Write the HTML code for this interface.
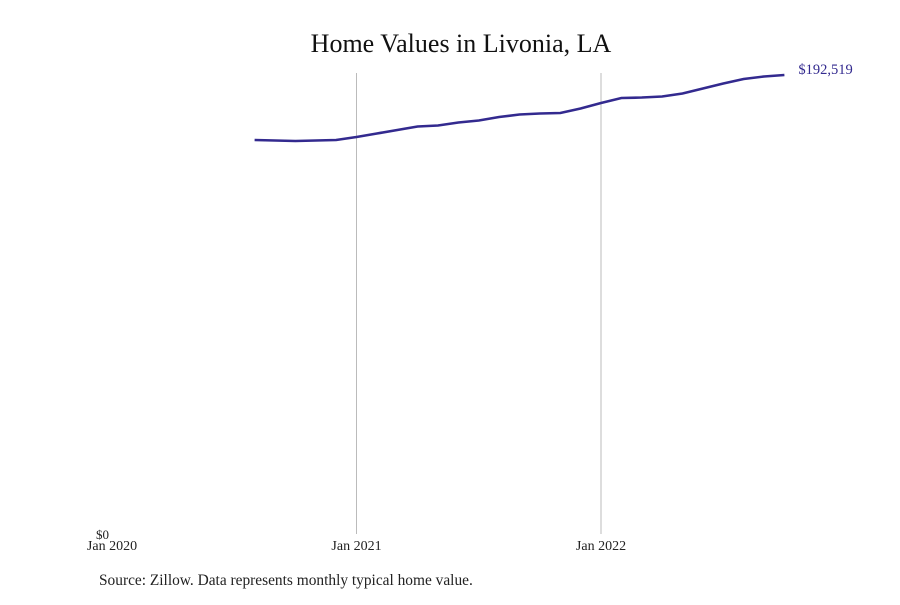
<!DOCTYPE html>
<html><head><meta charset="utf-8"><style>
body{margin:0;background:#fff;width:900px;height:600px;overflow:hidden;font-family:"Liberation Serif",serif}
</style></head><body>
<svg width="900" height="600">
<text x="461" y="52" text-anchor="middle" font-size="26" fill="#111">Home Values in Livonia, LA</text>
<g id="grid"></g>
<g id="xaxis"></g>
<text x="109" y="539" text-anchor="end" font-size="13" fill="#222">$0</text>
<path id="line" fill="none" stroke="#332a8f" stroke-width="2.6"/>
<text id="endlabel" font-size="14.5" fill="#332a8f"></text>
<text x="99" y="585" font-size="15.4" fill="#222">Source: Zillow. Data represents monthly typical home value.</text>
</svg>
<script>
const startMonthIndex = 7; // Aug 2020, months since Jan 2020
const values = [165255,165045,164836,165045,165255,166513,167981,169444,170920,171340,172598,173437,174905,175954,176373,176583,178470,180777,182874,183084,183503,184762,186859,188956,190843,191892,192519];
const tickLabels = ["Jan 2020","Jan 2021","Jan 2022"];
const tickMonths = [0,12,24];
const endLabel = "$192,519";
const x = m => 112 + m*20.375;
const y = v => 534 - v/192519*459;
const ns="http://www.w3.org/2000/svg";
const grid=document.getElementById('grid'), xa=document.getElementById('xaxis');
tickMonths.forEach((m,i)=>{
  if(m>0){const l=document.createElementNS(ns,'line');
  l.setAttribute('x1',x(m));l.setAttribute('x2',x(m));l.setAttribute('y1',73);l.setAttribute('y2',534);
  l.setAttribute('stroke','#bbb');l.setAttribute('stroke-width','1');
  
  
  grid.appendChild(l);}
  const t=document.createElementNS(ns,'text');
  t.setAttribute('x',x(m));t.setAttribute('y',550);t.setAttribute('text-anchor','middle');t.setAttribute('font-size','14');t.setAttribute('fill','#222');
  t.textContent=tickLabels[i];
  
  
  xa.appendChild(t);
});
let d='';
values.forEach((v,i)=>{d+=(i?'L':'M')+x(startMonthIndex+i).toFixed(1)+','+y(v).toFixed(1);});
document.getElementById('line').setAttribute('d',d);
const el=document.getElementById('endlabel');
const li=values.length-1;
el.setAttribute('x',x(startMonthIndex+li)+14);el.setAttribute('y',y(values[li])-1);
el.textContent=endLabel;
</script>
</body></html>
